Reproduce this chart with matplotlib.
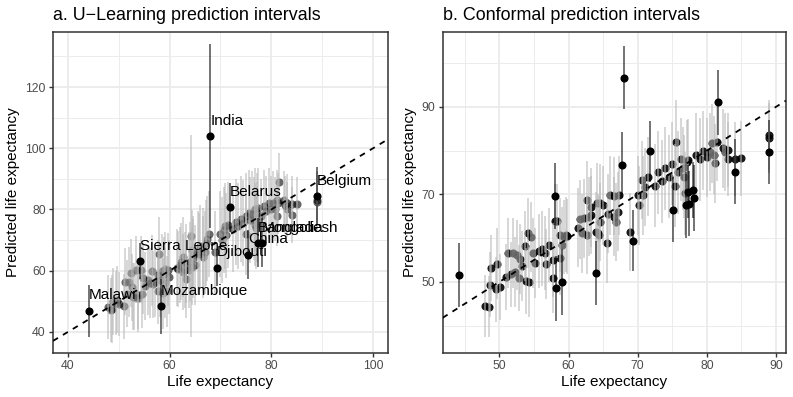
import matplotlib
matplotlib.use("Agg")
import matplotlib.pyplot as plt
import numpy as np

plt.rcParams['font.family'] = ['Liberation Sans', 'DejaVu Sans']

# ---------------- data ----------------
life_exp = [44.1, 47.9, 48.5, 48.7, 48.8, 49.5, 49.6, 50.1, 51.0, 51.2,
            51.7, 52.0, 52.3, 52.6, 52.8, 53.0, 53.3, 53.7, 53.8, 54.1,
            54.3, 54.5, 54.8, 55.1, 55.7, 56.1, 56.6, 56.8, 57.1, 57.7,
            57.8, 58.0, 58.1, 58.2, 58.4, 58.7, 58.8, 59.0, 59.1, 59.4,
            59.7, 59.8, 61.4, 61.7, 62.0, 62.3, 62.6, 62.7, 63.0, 63.2,
            63.3, 63.9, 64.0, 64.1, 64.3, 64.4, 64.5, 64.6, 65.0, 65.6,
            65.7, 66.0, 66.5, 66.6, 66.9, 67.2, 67.3, 67.8, 68.0, 68.9,
            69.3, 70.0, 70.2, 70.6, 70.8, 71.0, 71.5, 71.8, 72.5, 73.0,
            73.5, 74.0, 74.5, 75.0, 75.1, 75.4, 75.6, 75.8, 76.2, 76.5,
            76.7, 76.8, 77.0, 77.1, 77.2, 77.3, 77.4, 78.0, 78.2, 78.5,
            79.0, 79.5, 80.0, 80.4, 80.7, 81.1, 81.2, 81.4, 81.6, 82.4,
            82.6, 83.0, 83.1, 84.0, 84.1, 85.0, 89.0, 89.0, 89.0]

# U-Learning predictions and interval half-widths (panel a)
pred_u = [46.9, 48.1, 47.2, 47.5, 50.0, 49.4, 50.5, 49.0, 48.3, 56.4,
          52.5, 56.4, 59.2, 54.6, 51.5, 51.5, 60.3, 51.0, 52.0, 63.2,
          60.3, 52.4, 57.5, 55.0, 57.0, 56.0, 60.0, 55.5, 56.4, 58.6,
          53.5, 65.5, 57.0, 48.3, 60.0, 52.6, 59.0, 60.6, 56.0, 53.2,
          60.3, 58.0, 61.0, 60.5, 61.9, 63.0, 59.5, 64.5, 60.3, 57.2,
          62.4, 60.3, 63.0, 71.4, 61.3, 66.8, 65.0, 64.0, 61.9, 66.0,
          65.5, 68.0, 67.0, 64.5, 66.0, 69.0, 70.5, 72.0, 104.0, 66.0,
          61.0, 72.0, 70.0, 73.3, 74.5, 71.5, 75.0, 80.8, 73.5, 76.0,
          74.5, 77.0, 75.5, 78.0, 72.0, 65.2, 79.0, 76.5, 78.5, 77.0,
          80.0, 75.0, 74.0, 79.0, 76.0, 80.5, 69.1, 78.0, 69.1, 81.0,
          79.5, 82.0, 80.0, 82.2, 80.1, 83.0, 78.0, 82.0, 89.1, 83.1,
          81.5, 80.0, 82.0, 78.2, 81.8, 81.7, 84.3, 83.2, 82.6]
halfw_u = [8.5, 10.5, 10.5, 11, 11, 10.5, 11, 10.5, 10.5, 11,
           11, 11.5, 11, 11, 11, 11, 11, 11, 11, 6,
           11, 11, 11.5, 11, 11.5, 11.5, 11.5, 11, 11.5, 11.5,
           11, 12, 12, 9, 12, 11.5, 12, 12, 11.5, 11.5,
           12, 12, 12.5, 12.5, 12.5, 12.5, 12.5, 13, 12.5, 12.5,
           13, 12.5, 13, 33, 12.5, 13, 13, 13, 13, 13.5,
           13.5, 13.5, 13.5, 13.5, 13.5, 14, 14, 14, 30, 13.5,
           6, 14, 14, 14, 14, 14, 14, 8, 14, 14,
           14, 14, 14, 14, 13.5, 8, 14, 14, 14, 13.5,
           13.5, 13.5, 13.5, 13, 13, 13, 8, 12, 8, 12,
           11.5, 11.5, 11, 10.5, 10.5, 10, 10, 10, 9.5, 9.5,
           9.5, 9, 9.5, 9, 9, 9, 9.5, 9.5, 9.5]

# Conformal predictions and interval half-widths (panel b)
pred_c = [51.5, 44.5, 44.3, 49.4, 53.2, 48.3, 54.2, 48.9, 51.1, 56.6,
          51.7, 56.5, 52.3, 56.1, 50.9, 55.2, 53.6, 58.2, 50.2, 61.2,
          50.0, 60.2, 56.5, 54.3, 57.0, 57.6, 56.6, 54.0, 58.4, 55.0,
          50.8, 69.6, 63.9, 48.5, 63.9, 55.5, 60.7, 58.5, 50.0, 60.3,
          60.8, 60.4, 62.4, 64.3, 61.1, 64.5, 60.7, 68.7, 64.9, 67.0,
          65.3, 61.5, 52.1, 68.1, 61.1, 60.7, 63.7, 68.0, 67.5, 58.8,
          65.6, 69.8, 69.6, 64.9, 63.7, 66.0, 69.8, 76.7, 96.7, 61.4,
          59.4, 69.8, 67.5, 73.3, 69.8, 71.7, 74.0, 79.8, 72.0, 75.0,
          73.0, 76.0, 74.0, 77.0, 66.5, 72.0, 82.0, 75.0, 78.0, 76.0,
          74.0, 70.2, 67.5, 77.5, 70.6, 77.8, 67.9, 71.0, 69.1, 79.0,
          78.0, 80.0, 78.5, 79.7, 81.7, 79.0, 77.1, 82.0, 91.0, 80.5,
          79.7, 78.1, 80.1, 75.2, 78.1, 78.2, 83.6, 82.8, 79.7]
halfw_c = [7.3, 7, 7, 7.5, 7.5, 7.5, 8, 7.5, 7.5, 8,
           7.5, 8, 8, 8, 7.5, 8, 8, 8, 7.5, 8,
           8, 8, 8, 8, 8.5, 8.5, 8.5, 8, 8.5, 8.5,
           8, 7.5, 8.5, 7.5, 8.5, 8.5, 8.5, 8.5, 7.5, 8.5,
           8.5, 8.5, 9, 9, 9, 9, 9, 9, 9, 9,
           9, 9, 7.3, 9, 9, 9, 9, 9, 9, 9,
           9, 9, 9, 9, 9, 9, 9, 7.5, 7.2, 9,
           7, 9, 9, 9, 9, 9, 9, 7, 9.5, 9.5,
           9.5, 9.5, 9.5, 9.5, 7.5, 9.5, 9.5, 9.5, 9.5, 9.5,
           9.5, 9.5, 7.5, 9.5, 6, 9.5, 7.5, 6.5, 7.5, 9.5,
           9.5, 9, 9, 9, 9, 9, 9, 9, 7.5, 9,
           9, 8.5, 8.5, 7.5, 8.5, 8.5, 8, 8, 7.3]

# labelled (highlighted) countries in panel a: name -> row
label_names = ["Malawi", "Sierra Leone", "Mozambique", "India", "Djibouti",
               "Belarus", "China", "Bangladesh", "Mongolia", "Belgium"]
label_rows = [0, 19, 33, 68, 70, 77, 85, 96, 98, 116]

# ---------------- figure ----------------
W, H = 793, 397
fig = plt.figure(figsize=(W / 100, H / 100), dpi=100)


def px_axes(l, t, r, b):
    return fig.add_axes([l / W, 1 - b / H, (r - l) / W, (b - t) / H])


ax1 = px_axes(53, 32, 388, 353)
ax2 = px_axes(442.7, 32, 785.7, 353)

x = np.array(life_exp)


def style(ax, xlim, ylim, xmaj, xmin, ymaj, ymin):
    ax.set_xlim(*xlim)
    ax.set_ylim(*ylim)
    ax.set_xticks(xmaj)
    ax.set_xticks(xmin, minor=True)
    ax.set_yticks(ymaj)
    ax.set_yticks(ymin, minor=True)
    ax.grid(which='major', color='#EBEBEB', lw=1.3, zorder=0)
    ax.grid(which='minor', color='#EBEBEB', lw=0.65, zorder=0)
    ax.set_axisbelow(True)
    for s in ax.spines.values():
        s.set_color('#333333')
        s.set_linewidth(1.1)
    ax.tick_params(which='major', length=3.2, width=1.0, color='#333333',
                   labelsize=8.8, labelcolor='#4D4D4D', pad=2)
    ax.tick_params(which='minor', length=0)


def draw(ax, pred, hw, dark, pt_alpha):
    pred = np.array(pred)
    hw = np.array(hw)
    lo, hi = pred - hw, pred + hw
    light = ~dark
    ax.scatter(x[light], pred[light], s=34, color='black', alpha=pt_alpha,
               linewidths=0, zorder=2)
    ax.vlines(x[light], lo[light], hi[light], color='#B8B8B8', alpha=0.55,
              lw=1.4, zorder=3)
    ax.vlines(x[dark], lo[dark], hi[dark], color='black', alpha=0.55,
              lw=1.4, zorder=4)
    ax.scatter(x[dark], pred[dark], s=34, color='black', alpha=1.0,
               linewidths=0, zorder=5)
    ax.axline((50, 50), (60, 60), color='black', lw=1.3,
              ls=(0, (3.2, 3.2)), zorder=6)


# panel a
dark_a = np.zeros(len(x), dtype=bool)
dark_a[label_rows] = True
style(ax1, (37.05, 102.95), (33.1, 138.0), [40, 60, 80, 100], [50, 70, 90],
      [40, 60, 80, 100, 120], [50, 70, 90, 110, 130])
draw(ax1, pred_u, halfw_u, dark_a, 0.6)
for name, r in zip(label_names, label_rows):
    ax1.text(life_exp[r], pred_u[r] + 5, name, ha='left', va='center',
             fontsize=11, color='black', zorder=7)

# panel b: dark = interval misses the observed value
pc = np.array(pred_c)
hc = np.array(halfw_c)
dark_b = (x < pc - hc) | (x > pc + hc)
style(ax2, (41.8, 91.4), (33.75, 107.1), [50, 60, 70, 80, 90],
      [45, 55, 65, 75, 85], [50, 70, 90], [40, 60, 80, 100])
draw(ax2, pred_c, halfw_c, dark_b, 0.9)

# titles and axis labels
fig.text(53 / W, 1 - 20 / H, 'a. U\u2212Learning prediction intervals',
         fontsize=12.9, ha='left', va='baseline')
fig.text(442.7 / W, 1 - 20 / H, 'b. Conformal prediction intervals',
         fontsize=12.9, ha='left', va='baseline')
cy = 1 - 192.5 / H
for axl, yx in ((ax1, 13), (ax2, 410)):
    pos = axl.get_position()
    fig.text((pos.x0 + pos.x1) / 2, 1 - 382 / H, 'Life expectancy',
             fontsize=11, ha='center', va='center')
    fig.text(yx / W, cy, 'Predicted life expectancy', fontsize=11,
             ha='center', va='center', rotation=90)

fig.savefig('out.png', dpi=100, facecolor='white')
